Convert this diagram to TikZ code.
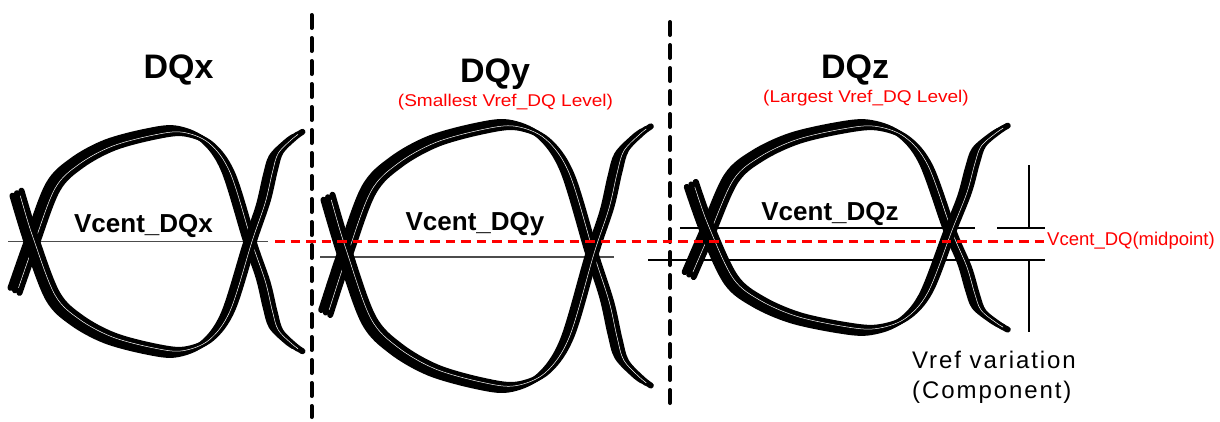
\documentclass[tikz,border=0pt]{standalone}
\usepackage{fontspec}
\setmainfont{Liberation Sans}
\usepackage{graphicx}
\newcommand\eyeup[6]{%
\draw[#6] plot[smooth,tension=0.55] coordinates {
({#1-0.078*#2},{#3+0.44*#5}) (#1,#3)
({#1+0.096*#2},{#3-0.495*#4}) ({#1+0.206*#2},{#3-0.712*#4})
({#1+0.358*#2},{#3-0.874*#4}) ({#1+0.55*#2},{#3-0.975*#4})
({#1+0.68*#2},{#3-1.0*#4}) ({#1+0.803*#2},{#3-0.9*#4})
({#1+0.9*#2},{#3-0.63*#4}) ({#1+#2},{#3})
({#1+1.06*#2},{#3+0.345*#5}) ({#1+1.093*#2},{#3+0.62*#5})
({#1+1.12*#2},{#3+0.79*#5}) ({#1+1.185*#2},{#3+0.92*#5})
({#1+1.22*#2},{#3+0.97*#5})};}
\newcommand\eyedown[6]{%
\draw[#6] plot[smooth,tension=0.55] coordinates {
({#1-0.069*#2},{#3-0.44*#4}) (#1,#3)
({#1+0.096*#2},{#3+0.495*#5}) ({#1+0.206*#2},{#3+0.712*#5})
({#1+0.358*#2},{#3+0.874*#5}) ({#1+0.55*#2},{#3+0.975*#5})
({#1+0.68*#2},{#3+1.0*#5}) ({#1+0.803*#2},{#3+0.9*#5})
({#1+0.9*#2},{#3+0.63*#5}) ({#1+#2},{#3})
({#1+1.06*#2},{#3-0.345*#4}) ({#1+1.093*#2},{#3-0.62*#4})
({#1+1.12*#2},{#3-0.79*#4}) ({#1+1.185*#2},{#3-0.92*#4})
({#1+1.22*#2},{#3-0.97*#4})};}
\newcommand\eyebundle[5]{%
\foreach \dx/\dy in {-4.5/-2.5,0/0,4.5/2.5}{%
\begin{scope}[shift={(\dx,\dy)}]
\eyeup{#1}{#2}{#3}{#4}{#5}{strandb}
\end{scope}}%
\begin{scope}[shift={(2.2,1.2)}]
\eyeup{#1}{#2}{#3}{#4}{#5}{hair}
\end{scope}%
\foreach \dx/\dy in {-4.5/2.5,0/0,4.5/-2.5}{%
\begin{scope}[shift={(\dx,\dy)}]
\eyedown{#1}{#2}{#3}{#4}{#5}{strandb}
\end{scope}}%
\begin{scope}[shift={(2.2,-1.2)}]
\eyedown{#1}{#2}{#3}{#4}{#5}{hair}
\end{scope}}
\begin{document}
\begin{tikzpicture}[x=1pt,y=-1pt,
  hair/.style={white,line width=0.5pt,line cap=butt,shorten <=4pt,shorten >=4pt},
  strandb/.style={black,line width=6pt,line cap=round,line join=round},
  thinline/.style={black,line width=1.1pt},
  grayline/.style={black!70,line width=1.5pt},
  sepline/.style={black,line width=4pt,line cap=round,dash pattern=on 13pt off 10pt},
  reddash/.style={red,line width=2.8pt,dash pattern=on 9.5pt off 6pt},
  title/.style={font=\fontsize{34}{40}\selectfont\bfseries,anchor=base,inner sep=0pt},
  sub/.style={font=\fontsize{17}{20}\selectfont,text=red,anchor=base,inner sep=0pt},
  vlabel/.style={font=\fontsize{26}{30}\selectfont\bfseries,anchor=base,inner sep=0pt},
  note/.style={font=\fontsize{24}{28}\selectfont\addfontfeatures{LetterSpace=8},anchor=base west,inner sep=0pt},
  ]
\useasboundingbox (0,0) rectangle (1220,421);
% separators
\coordinate (s1t) at (311.5,15);
\coordinate (s1b) at (311.5,417);
\coordinate (s2t) at (670,22);
\coordinate (s2b) at (670,412);
\draw[sepline] (s1t) -- (s1b);
\draw[sepline] (s2t) -- (s2b);
% level lines
\coordinate (gx1) at (8,241.7);  \coordinate (gx2) at (268,241.7);
\coordinate (gy1) at (320,257);  \coordinate (gy2) at (614,257);
\coordinate (gz1) at (680,228);  \coordinate (gz2) at (975,228);
\coordinate (gl1) at (648,260);  \coordinate (gl2) at (1045,260);
\coordinate (ga1) at (997,228);  \coordinate (ga2) at (1045,228);
\coordinate (va1) at (1029,165); \coordinate (va2) at (1029,228);
\coordinate (vb1) at (1029,260); \coordinate (vb2) at (1029,332);
\draw[grayline] (gx1) -- (gx2);
\draw[grayline] (gy1) -- (gy2);
\draw[thinline] (gz1) -- (gz2);
\draw[thinline] (gl1) -- (gl2);
\draw[thinline] (ga1) -- (ga2);
\draw[thinline] (va1) -- (va2);
\draw[thinline] (vb1) -- (vb2);
% eyes
\eyebundle{32}{218}{242}{111}{110}
\eyebundle{345}{247}{254}{129}{133}
\eyebundle{708}{242}{231}{106}{99}
% texts
\node[title] (tx) at (178.5,78) {DQx};
\node[title] (ty) at (495,82) {DQy};
\node[title] (tz) at (855,78) {DQz};
\node[sub] (sy) at (505.5,106) {\scalebox{1.12}[1]{(Smallest Vref\_DQ Level)}};
\node[sub] (sz) at (866,102) {\scalebox{1.12}[1]{(Largest Vref\_DQ Level)}};
\node[vlabel] (lx) at (143.5,232) {Vcent\_DQx};
\node[vlabel] (ly) at (475,230) {Vcent\_DQy};
\node[vlabel] (lz) at (830,220) {Vcent\_DQz};
\node[font=\fontsize{18.5}{22}\selectfont,text=red,anchor=base west,inner sep=0pt] (mid) at (1047,245) {Vcent\_DQ(midpoint)};
\node[note] (vr1) at (912,368) {Vref variation};
\node[note] (vr2) at (912,398) {(Component)};
% midpoint line
\coordinate (rs) at (275,241.7);
\draw[reddash] (rs) -- (rs -| mid.west);
\end{tikzpicture}
\end{document}
